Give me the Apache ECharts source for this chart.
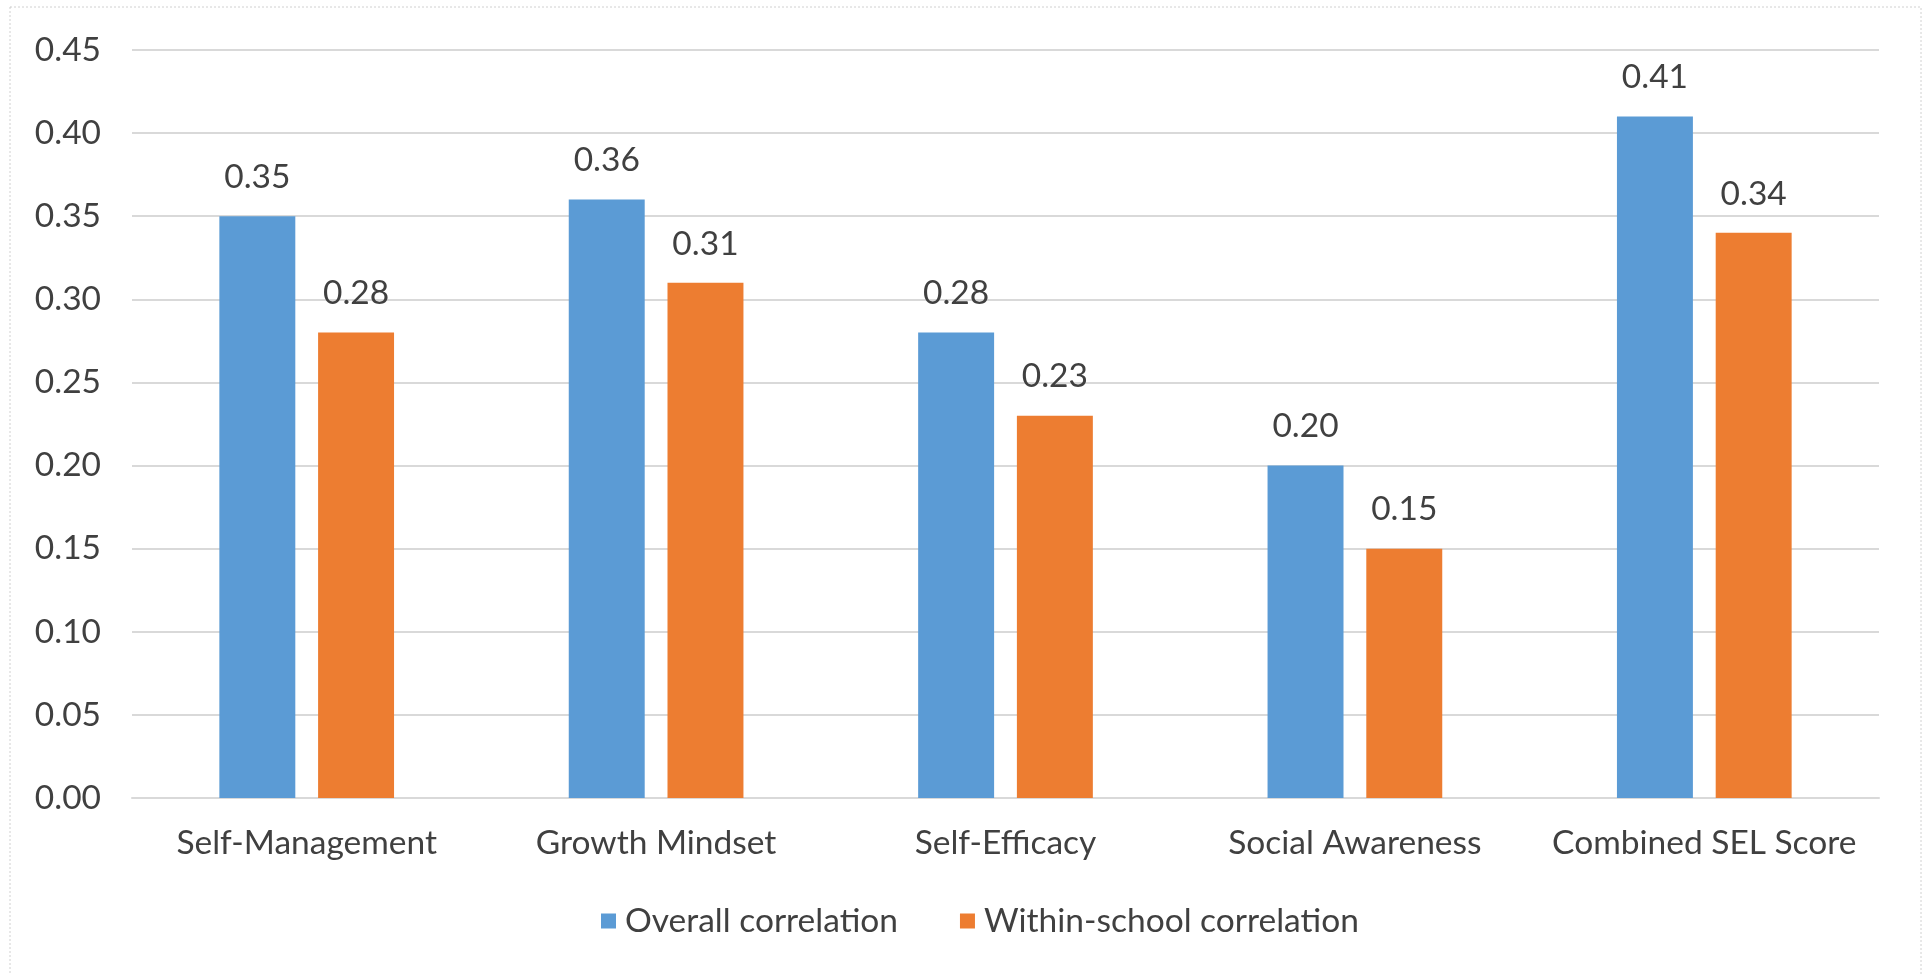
<!DOCTYPE html>
<html>
<head>
<meta charset="utf-8">
<script src="https://cdn.jsdelivr.net/npm/echarts@6/dist/echarts.min.js"></script>
<style>
html,body{margin:0;padding:0;background:#fff;}
#chart{width:1927px;height:975px;}
</style>
</head>
<body>
<div id="chart"></div>
<script>
const categories = ["Self-Management", "Growth Mindset", "Self-Efficacy", "Social Awareness", "Combined SEL Score"];
const overallCorrelation = [0.35, 0.36, 0.28, 0.20, 0.41];
const withinSchoolCorrelation = [0.28, 0.31, 0.23, 0.15, 0.34];
const seriesNames = ["Overall correlation", "Within-school correlation"];

const FONT = "Lato";
const FS = 33.5;
const TXT = "#404040";

const chart = echarts.init(document.getElementById('chart'));
chart.setOption({
  animation: false,
  backgroundColor: '#fff',
  graphic: [{
    type: 'rect',
    shape: { x: 10, y: 7, width: 1911, height: 990 },
    style: { fill: 'none', stroke: '#d0d0d0', lineWidth: 1, lineDash: [2, 2] },
    silent: true
  }],
  grid: { left: 132, right: 48, top: 50, bottom: 177, containLabel: false },
  legend: {
    data: seriesNames,
    bottom: 32,
    left: 596,
    itemWidth: 15,
    itemHeight: 15,
    itemGap: 62,
    icon: 'rect',
    textStyle: { fontFamily: FONT, fontSize: FS, color: TXT, padding: [0, 0, 0, 4] }
  },
  xAxis: {
    type: 'category',
    data: categories,
    axisLine: { show: true, lineStyle: { color: '#d9d9d9', width: 2 } },
    axisTick: { show: false },
    axisLabel: { fontFamily: FONT, fontSize: FS, color: TXT, margin: 28, interval: 0 }
  },
  yAxis: {
    type: 'value',
    min: 0,
    max: 0.45,
    interval: 0.05,
    axisLine: { show: false },
    axisTick: { show: false },
    splitLine: { lineStyle: { color: '#d9d9d9', width: 2 } },
    axisLabel: {
      fontFamily: FONT, fontSize: FS, color: TXT, margin: 31,
      formatter: v => v.toFixed(2)
    }
  },
  series: [
    {
      name: seriesNames[0],
      type: 'bar',
      data: overallCorrelation,
      barGap: '30%',
      barCategoryGap: '50%',
      itemStyle: { color: '#5B9BD5' },
      label: {
        show: true, position: 'top', distance: 22,
        fontFamily: FONT, fontSize: FS, color: TXT,
        formatter: p => p.value.toFixed(2)
      }
    },
    {
      name: seriesNames[1],
      type: 'bar',
      data: withinSchoolCorrelation,
      itemStyle: { color: '#ED7D31' },
      label: {
        show: true, position: 'top', distance: 22,
        fontFamily: FONT, fontSize: FS, color: TXT,
        formatter: p => p.value.toFixed(2)
      }
    }
  ]
});
</script>
</body>
</html>
